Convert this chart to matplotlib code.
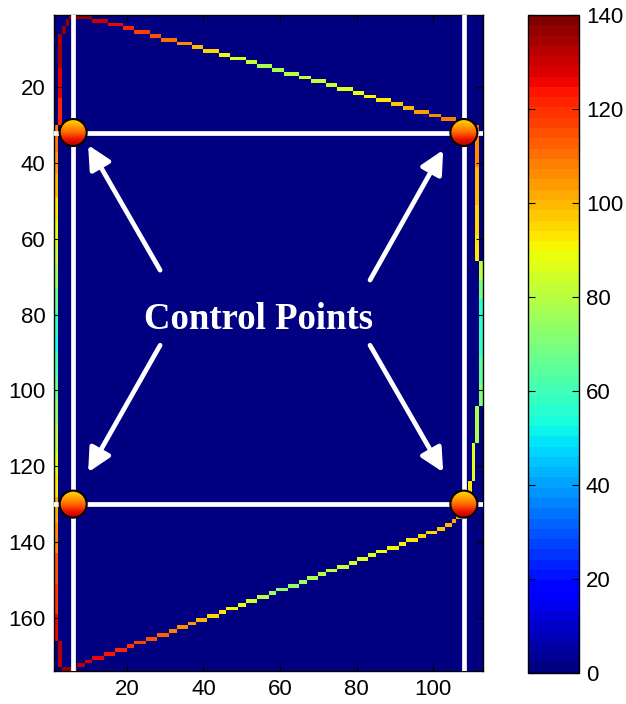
import numpy as np
import matplotlib
matplotlib.use("Agg")
import matplotlib.pyplot as plt
from matplotlib.patches import Ellipse, FancyArrowPatch
from matplotlib.colors import LinearSegmentedColormap

plt.rcParams["font.family"] = ["Liberation Sans", "DejaVu Sans"]

# ── grid ────────────────────────────────────────────────────────────────
N_ROWS, N_COLS = 173, 112
V_MAX = 140

# top boundary: one horizontal run per row (row 1, 2, ...), start column of each run
top_start = [5, 11, 15, 19, 22, 26, 29, 33, 37, 40, 44, 47, 51, 54, 58,
             61, 65, 68, 72, 75, 79, 82, 85, 89, 92, 95, 99, 102, 106, 109]
top_last_end = 111
top_vals = [137, 130, 125, 122, 118, 114, 110, 106, 100, 96, 89, 86, 81, 77, 77,
            79, 81, 82, 85, 87, 89, 91, 94, 97, 100, 103, 106, 108, 110, 110]

# bottom boundary: rows 173, 172, ... going up
bot_start = [3, 7, 9, 11, 14, 17, 20, 22, 25, 28, 31, 33, 36, 38, 41, 44, 46, 49, 51, 54,
             57, 59, 62, 65, 67, 70, 72, 75, 78, 80, 83, 85, 88, 91, 93, 96, 98, 101, 103, 105, 106]
bot_last_end = 107
bot_vals = [136, 133, 129, 126, 124, 122, 120, 117, 115, 112, 109, 106, 103, 100, 96, 93, 90, 88, 85, 80,
            76, 74, 73, 75, 77, 79, 81, 82, 84, 86, 87, 88, 90, 91, 93, 95, 96, 98, 100, 101, 102]

# left boundary: vertical segments (column, first row, last row, value)
left_col = [4, 3, 2, 2, 2, 1, 1, 1, 1, 1, 1, 1, 1, 1, 1, 1, 1, 1, 1, 1, 1, 1, 1, 1, 1, 1, 2]
left_r0 = [2, 4, 6, 15, 23, 30, 37, 43, 49, 55, 61, 67, 73, 79, 85, 90, 96, 102, 109, 116,
           122, 128, 135, 143, 151, 159, 166]
left_r1 = [3, 5, 14, 22, 29, 36, 42, 48, 54, 60, 66, 72, 78, 84, 89, 95, 101, 108, 115, 121,
           127, 134, 142, 150, 158, 165, 172]
left_val = [137, 136, 134, 127, 121, 108, 103, 99, 94, 88, 82, 75, 66, 57, 54, 60, 67, 74, 80, 87,
            94, 101, 107, 115, 120, 126, 133]

# right boundary
right_col = [111, 111, 111, 111, 112, 112, 112, 112, 112, 112, 111, 110, 109, 108]
right_r0 = [31, 41, 51, 59, 66, 71, 76, 83, 91, 98, 104, 114, 124, 130]
right_r1 = [40, 50, 58, 65, 70, 75, 82, 90, 97, 103, 113, 123, 129, 132]
right_val = [106, 100, 96, 92, 80, 68, 56, 58, 64, 70, 77, 86, 94, 100]

# control points (white guide lines)
ctrl_x = [6, 108]
ctrl_y = [32, 130]

label_text = "Control Points"
label_xy = (54.3, 83.9)
arrow_tails = [(28.7, 68.3), (83.5, 70.9), (28.7, 88.1), (83.5, 88.1)]
arrow_tips = [(9.9, 35.3), (102.6, 36.6), (9.9, 121.6), (102.6, 121.6)]

# ── build matrix ────────────────────────────────────────────────────────
Z = np.zeros((N_ROWS, N_COLS))
for i, (c0, v) in enumerate(zip(top_start, top_vals)):
    c1 = top_start[i + 1] - 1 if i + 1 < len(top_start) else top_last_end
    Z[i, c0 - 1:c1] = v
for i, (c0, v) in enumerate(zip(bot_start, bot_vals)):
    c1 = bot_start[i + 1] - 1 if i + 1 < len(bot_start) else bot_last_end
    Z[N_ROWS - 1 - i, c0 - 1:c1] = v
for c, r0, r1, v in zip(left_col + right_col, left_r0 + right_r0,
                        left_r1 + right_r1, left_val + right_val):
    Z[r0 - 1:r1, c - 1] = v

# ── figure ──────────────────────────────────────────────────────────────
fig = plt.figure(figsize=(6.26, 7.04), dpi=100)
ax = fig.add_axes([0.0863, 0.0469, 0.6853, 0.9318])
cax = fig.add_axes([0.8440, 0.0445, 0.0810, 0.9342])

cmap = plt.get_cmap("jet", 64)
xe = np.arange(1, N_COLS + 2)
ye = np.arange(1, N_ROWS + 2)
mesh = ax.pcolormesh(xe, ye, Z, cmap=cmap, vmin=0, vmax=V_MAX, shading="flat")

for x in ctrl_x:
    ax.axvline(x, color="white", lw=3.4, zorder=3)
for y in ctrl_y:
    ax.axhline(y, color="white", lw=3.4, zorder=3)

# arrows + label
for (tx, ty), (hx, hy) in zip(arrow_tails, arrow_tips):
    ax.add_patch(FancyArrowPatch((tx, ty), (hx, hy),
                                 arrowstyle="-|>,head_length=0.7,head_width=0.35",
                                 mutation_scale=20, lw=3.4, color="white",
                                 shrinkA=0, shrinkB=0, zorder=4))
ax.text(label_xy[0], label_xy[1], label_text, color="white", fontsize=26.5,
        fontweight="bold", family=["Liberation Serif", "DejaVu Serif"],
        ha="center", va="baseline", zorder=5)

# control point balls (yellow -> red gradient)
ball_cmap = LinearSegmentedColormap.from_list(
    "ball", ["#ffe000", "#ffa800", "#ff6a00", "#ee1400", "#b00000"])
grad = np.linspace(0, 1, 64).reshape(-1, 1)
rx, ry = 13.5 / 3.828, 13.5 / 3.79
for cx in ctrl_x:
    for cy in ctrl_y:
        im = ax.imshow(grad, cmap=ball_cmap, extent=(cx - rx, cx + rx, cy + ry, cy - ry),
                       origin="upper", aspect="auto", zorder=6, interpolation="bilinear")
        clip = Ellipse((cx, cy), 2 * rx, 2 * ry, transform=ax.transData)
        im.set_clip_path(clip)
        ax.add_patch(Ellipse((cx, cy), 2 * rx, 2 * ry, facecolor="none",
                             edgecolor="black", lw=1.5, zorder=7))

ax.set_xlim(1, N_COLS + 1)
ax.set_ylim(N_ROWS + 1, 1)
ax.set_aspect("auto")
ax.set_xticks(range(20, 101, 20))
ax.set_yticks(range(20, 161, 20))
ax.tick_params(direction="in", top=True, right=True, length=5, width=0.8,
               labelsize=16, pad=6)
for s in ax.spines.values():
    s.set_linewidth(1.0)

cb = fig.colorbar(mesh, cax=cax, ticks=range(0, V_MAX + 1, 20))
cax.tick_params(direction="in", left=True, right=True, length=5, width=0.8,
                labelsize=16, pad=5)
cb.outline.set_linewidth(1.0)

plt.savefig("out.png", dpi=100)
plt.close()
